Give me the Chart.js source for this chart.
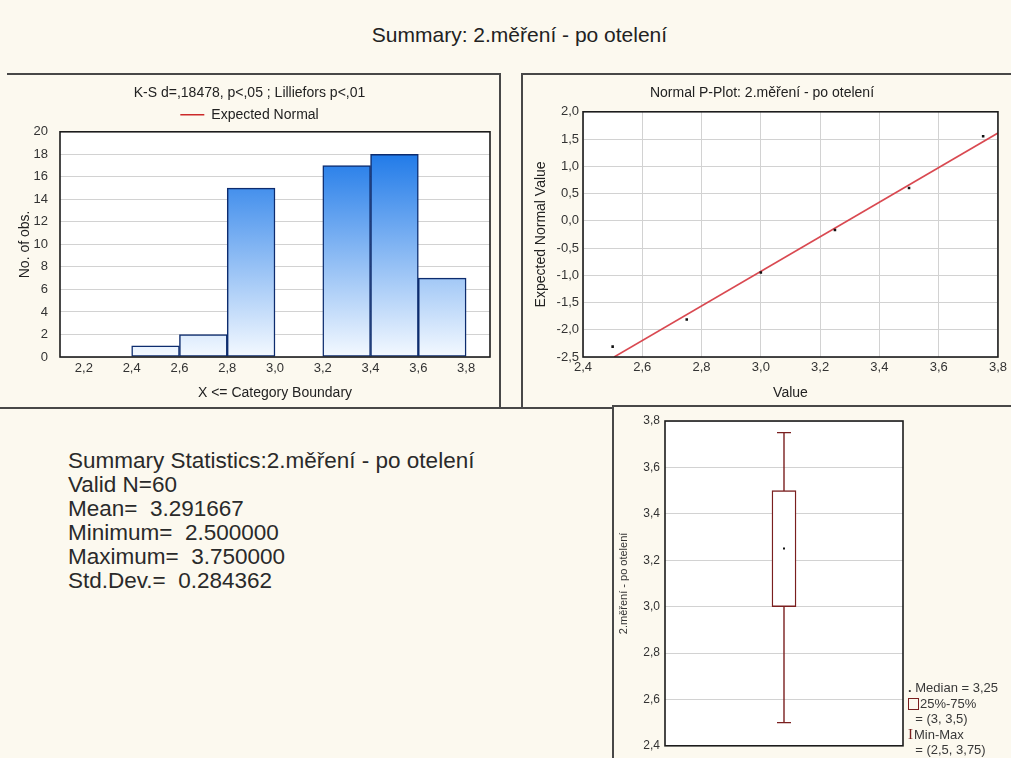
<!DOCTYPE html>
<html>
<head>
<meta charset="utf-8">
<script src="https://cdn.jsdelivr.net/npm/chart.js@4.4.1/dist/chart.umd.min.js"></script>
<style>
  html, body { margin: 0; padding: 0; background: #fcf9ef; }
  body { width: 1011px; height: 758px; position: relative; overflow: hidden;
         font-family: "Liberation Sans", Arial, sans-serif; color: #222; }
  .abs { position: absolute; }
  .hl { position: absolute; height: 2px; background: #484848; }
  .vl { position: absolute; width: 2px; background: #484848; }
  #pageTitle { left: 14px; width: 1011px; top: 22px; text-align: center; font-size: 21px; line-height: 26px; }
  #stats { left: 68px; top: 449px; font-size: 22.5px; line-height: 24px; white-space: pre; color: #2a2a2a; }
  #boxLegend { left: 908px; top: 680px; font-size: 13px; line-height: 15.5px; white-space: pre; color: #383838; }
  #boxLegend .sq { display: inline-block; width: 9px; height: 10px; border: 1.5px solid #7a1f1f; vertical-align: -2px; margin-right: 1px; }
  #boxLegend .ib { color: #7a1f1f; font-family: "Liberation Serif", serif; font-size: 15px; margin-right: 1px; }
  canvas { position: absolute; }
</style>
</head>
<body>
<div id="pageTitle" class="abs"></div>

<!-- panel frames -->
<div class="hl" style="left:7px;top:73px;width:494px"></div>
<div class="vl" style="left:499px;top:73px;height:336px"></div>
<div class="hl" style="left:0;top:407px;width:614px"></div>
<div class="hl" style="left:521px;top:73px;width:490px"></div>
<div class="vl" style="left:521px;top:73px;height:336px"></div>
<div class="hl" style="left:612px;top:405px;width:399px"></div>
<div class="vl" style="left:612px;top:405px;height:353px"></div>

<canvas id="hist" width="489" height="330" style="left:9px;top:76px;width:489px;height:330px"></canvas>
<canvas id="pplot" width="486" height="330" style="left:524px;top:76px;width:486px;height:330px"></canvas>
<canvas id="boxp" width="396" height="350" style="left:615px;top:408px;width:396px;height:350px"></canvas>

<div id="stats" class="abs"></div>
<div id="boxLegend" class="abs"></div>

<script>
// ---- data ----
const variableName = '2.měření - po otelení';

// histogram: category boundaries and counts in (bound[i], bound[i+1]]
const binBounds = [2.2, 2.4, 2.6, 2.8, 3.0, 3.2, 3.4, 3.6, 3.8];
const binCounts = [0, 1, 2, 15, 0, 17, 18, 7];
const histYTicks = [0, 2, 4, 6, 8, 10, 12, 14, 16, 18, 20];
const ksText = 'K-S d=,18478, p<,05 ; Lilliefors p<,01';

// normal probability plot
const ppValues   = [2.5, 2.75, 3.0, 3.25, 3.5, 3.75];
const ppExpected = [-2.31, -1.81, -0.95, -0.17, 0.60, 1.55];
const fitLineX   = [2.505, 3.8];
const fitLineY   = [-2.5, 1.61];
const ppXTicks   = [2.4, 2.6, 2.8, 3.0, 3.2, 3.4, 3.6, 3.8];
const ppYTicks   = [-2.5, -2.0, -1.5, -1.0, -0.5, 0.0, 0.5, 1.0, 1.5, 2.0];

// box plot summary
const boxMin = 2.5, boxQ1 = 3.0, boxMedian = 3.25, boxQ3 = 3.5, boxMax = 3.75;
const boxYTicks = [2.4, 2.6, 2.8, 3.0, 3.2, 3.4, 3.6, 3.8];

// summary statistics
const statNames  = ['Valid N', 'Mean', 'Minimum', 'Maximum', 'Std.Dev.'];
const statValues = ['60', '3.291667', '2.500000', '3.750000', '0.284362'];

// ---- helpers ----
const comma = (v, d) => v.toFixed(d).replace('.', ',');
const fixTicks = list => (scale => { scale.ticks = list.map(v => ({ value: v })); });
const FONT = '"Liberation Sans", Arial, sans-serif';
Chart.defaults.font.family = FONT;
Chart.defaults.color = '#333';
Chart.defaults.animation = false;

// white plot area + dark frame around it
const plotFrame = {
  id: 'plotFrame',
  beforeDraw(chart) {
    const a = chart.chartArea, c = chart.ctx;
    c.save(); c.fillStyle = '#ffffff';
    c.fillRect(a.left, a.top, a.right - a.left, a.bottom - a.top); c.restore();
  },
  afterDraw(chart) {
    const a = chart.chartArea, c = chart.ctx;
    c.save(); c.strokeStyle = '#1c1c1c'; c.lineWidth = 1.6;
    c.strokeRect(a.left, a.top, a.right - a.left, a.bottom - a.top); c.restore();
  }
};

// ---- text blocks ----
document.getElementById('pageTitle').textContent = 'Summary: ' + variableName;
document.getElementById('stats').textContent =
  ['Summary Statistics:' + variableName]
    .concat(statNames.map((n, i) => n + '=' + (i === 0 ? '' : '  ') + statValues[i]))
    .join('\n');
document.getElementById('boxLegend').innerHTML =
  '<span style="font-weight:bold">.</span> Median = ' + comma(boxMedian, 2) + '\n' +
  '<span class="sq"></span>25%-75%\n' +
  '  = (' + String(boxQ1).replace('.', ',') + ', ' + String(boxQ3).replace('.', ',') + ')\n' +
  '<span class="ib">I</span>Min-Max\n' +
  '  = (' + String(boxMin).replace('.', ',') + ', ' + String(boxMax).replace('.', ',') + ')';

// ---- histogram ----
const histData = binCounts.map((c, i) => ({ x: (binBounds[i] + binBounds[i + 1]) / 2, y: c }));
new Chart(document.getElementById('hist'), {
  type: 'bar',
  data: {
    datasets: [
      {
        type: 'bar',
        label: 'No. of obs.',
        data: histData,
        barPercentage: 1.0,
        categoryPercentage: 1.0,
        borderSkipped: false,
        borderColor: '#0d2c6e',
        borderWidth: ctx => (ctx.raw && ctx.raw.y > 0 ? 1.5 : 0),
        backgroundColor: ctx => {
          const area = ctx.chart.chartArea;
          if (!area) return '#5aa0ee';
          const g = ctx.chart.ctx.createLinearGradient(0, area.top, 0, area.bottom);
          g.addColorStop(0, '#0a6de6');
          g.addColorStop(1, '#f4f9ff');
          return g;
        },
        order: 2
      },
      {
        type: 'line',
        label: 'Expected Normal',
        data: [],
        borderColor: '#cc2a2a',
        borderWidth: 1.5,
        pointRadius: 0,
        order: 1
      }
    ]
  },
  options: {
    responsive: false,
    layout: { padding: { top: 0, right: 8, bottom: 0, left: 0 } },
    plugins: {
      title: { display: true, text: ksText, color: '#222',
               font: { size: 14, weight: 'normal' }, padding: { top: 9, bottom: 2 } },
      legend: {
        display: true,
        labels: {
          filter: item => item.text === 'Expected Normal',
          usePointStyle: true, pointStyle: 'line', pointStyleWidth: 24,
          color: '#222', font: { size: 14 }, padding: 4, boxHeight: 12
        }
      },
      tooltip: { enabled: false }
    },
    scales: {
      x: {
        type: 'linear', min: 2.1, max: 3.9, offset: false,
        afterBuildTicks: fixTicks(binBounds),
        afterFit: s => { s.height = 49; },
        grid: { display: false, drawTicks: false },
        border: { display: false },
        ticks: { autoSkip: false, maxRotation: 0, padding: 4, color: '#333',
                 font: { size: 13 }, callback: v => comma(v, 1) },
        title: { display: true, text: 'X <= Category Boundary', color: '#222',
                 font: { size: 14 }, padding: { top: 0, bottom: 4 } }
      },
      y: {
        min: 0, max: 20,
        afterBuildTicks: fixTicks(histYTicks),
        afterFit: s => { s.width = 51; },
        grid: { color: '#d2d2d2', lineWidth: 1, drawTicks: false },
        border: { display: false },
        ticks: { padding: 12, color: '#333', font: { size: 13 }, callback: v => String(v) },
        title: { display: true, text: 'No. of obs.', color: '#222',
                 font: { size: 14 }, padding: { top: 8, bottom: 0 } }
      }
    }
  },
  plugins: [plotFrame]
});

// ---- normal probability plot ----
new Chart(document.getElementById('pplot'), {
  type: 'scatter',
  data: {
    datasets: [
      {
        type: 'line',
        label: 'fit',
        data: fitLineX.map((x, i) => ({ x, y: fitLineY[i] })),
        borderColor: 'rgba(214,58,66,0.92)',
        borderWidth: 1.6,
        pointRadius: 0,
        order: 2
      },
      {
        type: 'scatter',
        label: 'observed',
        data: ppValues.map((x, i) => ({ x, y: ppExpected[i] })),
        pointStyle: 'rect',
        pointRadius: 1.8,
        backgroundColor: '#111',
        borderWidth: 0,
        order: 1
      }
    ]
  },
  options: {
    responsive: false,
    layout: { padding: { top: 0, right: 10, bottom: 0, left: 0 } },
    plugins: {
      title: { display: true, text: 'Normal P-Plot: ' + variableName, color: '#222',
               font: { size: 14, weight: 'normal' }, padding: { top: 9, bottom: 10 } },
      legend: { display: false },
      tooltip: { enabled: false }
    },
    scales: {
      x: {
        type: 'linear', min: 2.4, max: 3.8,
        afterBuildTicks: fixTicks(ppXTicks),
        afterFit: s => { s.height = 49; },
        grid: { color: '#d2d2d2', drawTicks: false },
        border: { display: false },
        ticks: { autoSkip: false, maxRotation: 0, padding: 3, color: '#333',
                 font: { size: 13 }, callback: v => comma(v, 1) },
        title: { display: true, text: 'Value', color: '#222',
                 font: { size: 14 }, padding: { top: 0, bottom: 4 } }
      },
      y: {
        min: -2.5, max: 2.0,
        afterBuildTicks: fixTicks(ppYTicks),
        afterFit: s => { s.width = 59; },
        grid: { color: '#d2d2d2', drawTicks: false },
        border: { display: false },
        ticks: { padding: 4, color: '#333', font: { size: 13 }, callback: v => comma(v, 1) },
        title: { display: true, text: 'Expected Normal Value', color: '#222',
                 font: { size: 14 }, padding: { top: 9, bottom: 0 } }
      }
    }
  },
  plugins: [plotFrame]
});

// ---- box plot ----
const boxColor = '#7a1f1f';
new Chart(document.getElementById('boxp'), {
  type: 'bar',
  data: {
    labels: [variableName],
    datasets: [
      {
        type: 'line', label: 'whisker',
        data: [{ x: variableName, y: boxMin }, { x: variableName, y: boxMax }],
        borderColor: boxColor, borderWidth: 1.4, pointRadius: 0, order: 3
      },
      {
        type: 'bar', label: '25%-75%',
        data: [[boxQ1, boxQ3]],
        barThickness: 24,
        backgroundColor: '#ffffff',
        borderColor: boxColor, borderWidth: 1.4, borderSkipped: false,
        order: 2
      },
      {
        type: 'line', label: 'Min-Max', showLine: false,
        data: [{ x: variableName, y: boxMax }, { x: variableName, y: boxMin }],
        pointStyle: 'line', pointRadius: 7, borderColor: boxColor, borderWidth: 1.4,
        order: 1
      },
      {
        type: 'line', label: 'Median', showLine: false,
        data: [{ x: variableName, y: boxMedian }],
        pointStyle: 'rect', pointRadius: 1.4, backgroundColor: '#111', borderWidth: 0,
        order: 0
      }
    ]
  },
  options: {
    responsive: false,
    layout: { padding: { top: 13, right: 108, bottom: 5, left: 0 } },
    plugins: { legend: { display: false }, tooltip: { enabled: false } },
    scales: {
      x: { display: false },
      y: {
        min: 2.4, max: 3.8,
        afterBuildTicks: fixTicks(boxYTicks),
        afterFit: s => { s.width = 50; },
        grid: { color: '#d2d2d2', drawTicks: false },
        border: { display: false },
        ticks: { padding: 5, color: '#333', font: { size: 12 }, callback: v => comma(v, 1) },
        title: { display: true, text: variableName, color: '#333',
                 font: { size: 11 }, padding: { top: 2, bottom: 0 } }
      }
    }
  },
  plugins: [plotFrame]
});
</script>
</body>
</html>
